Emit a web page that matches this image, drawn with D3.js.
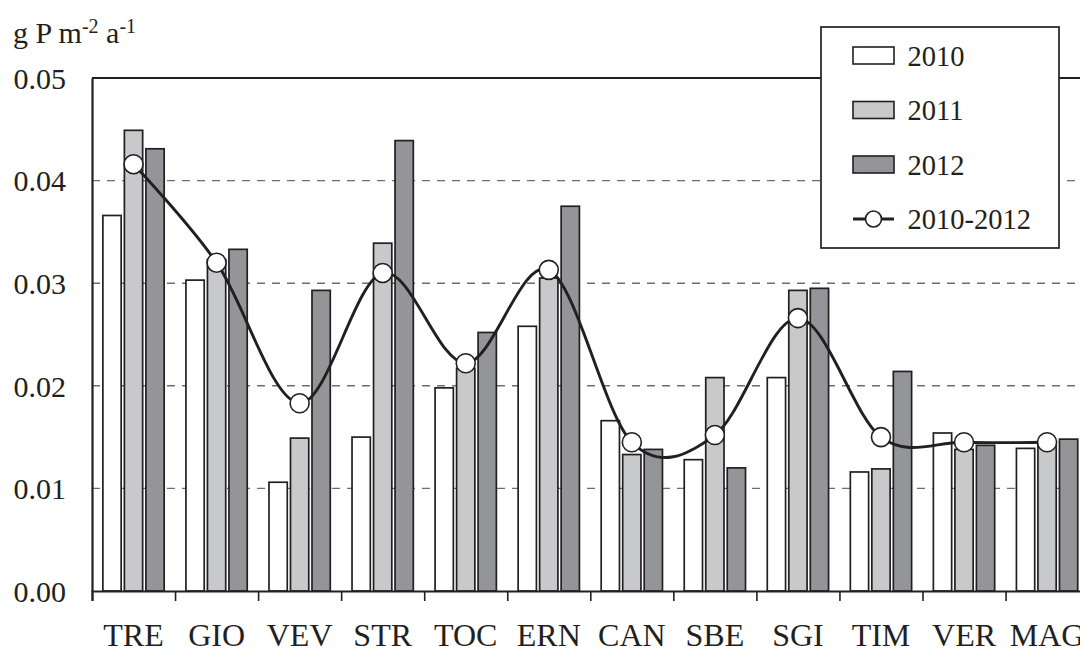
<!DOCTYPE html>
<html>
<head>
<meta charset="utf-8">
<script src="https://cdn.jsdelivr.net/npm/d3@7"></script>
<style>
  html, body { margin: 0; padding: 0; background: #fff; }
  svg { display: block; }
  text { font-family: "Liberation Serif", "Times New Roman", serif; fill: #231f20; }
</style>
</head>
<body>
<svg id="chart" width="1080" height="650"></svg>
<script>
// Sites along the river, upstream to downstream
const sites = ["TRE", "GIO", "VEV", "STR", "TOC", "ERN", "CAN", "SBE", "SGI", "TIM", "VER", "MAG"];
const years = ["2010", "2011", "2012"];

// Annual phosphorus load per site (g P m^-2 a^-1)
const v2010 = [0.0366, 0.0303, 0.0106, 0.0150, 0.0198, 0.0258, 0.0166, 0.0128, 0.0208, 0.0116, 0.0154, 0.0139];
const v2011 = [0.0449, 0.0323, 0.0149, 0.0339, 0.0217, 0.0305, 0.0133, 0.0208, 0.0293, 0.0119, 0.0138, 0.0146];
const v2012 = [0.0431, 0.0333, 0.0293, 0.0439, 0.0252, 0.0375, 0.0138, 0.0120, 0.0295, 0.0214, 0.0142, 0.0148];
// 2010-2012 mean
const vMean = [0.0416, 0.0320, 0.0183, 0.0310, 0.0222, 0.0313, 0.0145, 0.0152, 0.0266, 0.0150, 0.0145, 0.0145];

const yTicks = [0, 0.01, 0.02, 0.03, 0.04, 0.05];

const seriesByYear = { "2010": v2010, "2011": v2011, "2012": v2012 };
const fills = { "2010": "#ffffff", "2011": "#c8c9cb", "2012": "#939598" };
const ink = "#231f20";

const svg = d3.select("#chart");
const plotL = 92, plotR = 1088.6, plotT = 78, plotB = 591;

const x = d3.scaleBand().domain(sites).range([plotL, plotR]).paddingInner(0.262).paddingOuter(0.131);
const xInner = d3.scaleBand().domain(years).range([0, x.bandwidth()]).paddingInner(0.15);
const xEdge = d3.scaleLinear().domain([0, sites.length]).range([plotL, plotR]);
const y = d3.scaleLinear().domain([0, 0.05]).range([plotB, plotT]);

// dashed grid lines
svg.append("g")
  .selectAll("line")
  .data(yTicks.filter(t => t > 0 && t < 0.05))
  .join("line")
  .attr("x1", plotL).attr("x2", plotR)
  .attr("y1", d => y(d)).attr("y2", d => y(d))
  .attr("stroke", "#6d6e70").attr("stroke-width", 1.4)
  .attr("stroke-dasharray", "8,7");

// grouped bars
const groups = svg.append("g")
  .selectAll("g")
  .data(sites)
  .join("g")
  .attr("transform", d => `translate(${x(d)},0)`);

groups.selectAll("rect")
  .data((s, i) => years.map(yr => ({ yr, v: seriesByYear[yr][i] })))
  .join("rect")
  .attr("x", d => xInner(d.yr))
  .attr("width", xInner.bandwidth())
  .attr("y", d => y(d.v))
  .attr("height", d => y(0) - y(d.v))
  .attr("fill", d => fills[d.yr])
  .attr("stroke", ink).attr("stroke-width", 1.7);

// frame top line
svg.append("line").attr("x1", plotL).attr("x2", plotR).attr("y1", plotT).attr("y2", plotT)
  .attr("stroke", ink).attr("stroke-width", 2);

// y axis
const yAxis = svg.append("g")
  .attr("transform", `translate(${plotL},0)`)
  .call(d3.axisLeft(y).tickValues(yTicks).tickFormat(d3.format(".2f")).tickSize(0).tickPadding(26));
yAxis.select(".domain").attr("stroke", ink).attr("stroke-width", 2.2);
yAxis.selectAll("text")
  .attr("font-family", "Liberation Serif, serif")
  .attr("font-size", 30).attr("dy", "0.34em").attr("fill", ink);

// x axis: boundary ticks
const xTickAxis = svg.append("g")
  .attr("transform", `translate(0,${plotB})`)
  .call(d3.axisBottom(xEdge).tickValues(d3.range(0, sites.length + 1)).tickFormat("").tickSize(10));
xTickAxis.select(".domain").attr("stroke", ink).attr("stroke-width", 2.2);
xTickAxis.selectAll(".tick line").attr("stroke", ink).attr("stroke-width", 1.6);

// x axis: site labels
const xLabelAxis = svg.append("g")
  .attr("transform", `translate(0,${plotB})`)
  .call(d3.axisBottom(x).tickSize(0).tickPadding(0));
xLabelAxis.select(".domain").remove();
xLabelAxis.selectAll("text")
  .attr("font-family", "Liberation Serif, serif")
  .attr("font-size", 32).attr("y", 55).attr("dy", 0).attr("fill", ink);

// mean line with smoothing
const cx = (d, i) => x(sites[i]) + x.bandwidth() / 2;
const meanLine = d3.line()
  .x((d, i) => cx(d, i))
  .y(d => y(d))
  .curve(d3.curveCardinal.tension(0));

svg.append("path")
  .datum(vMean)
  .attr("d", meanLine)
  .attr("fill", "none").attr("stroke", ink).attr("stroke-width", 2.9);

svg.append("g")
  .selectAll("circle")
  .data(vMean)
  .join("circle")
  .attr("cx", (d, i) => cx(d, i))
  .attr("cy", d => y(d))
  .attr("r", 9.5)
  .attr("fill", "#fff").attr("stroke", ink).attr("stroke-width", 1.6);

// unit label
const unit = svg.append("text").attr("x", 13).attr("y", 43).attr("font-size", 30);
unit.append("tspan").text("g P m");
unit.append("tspan").attr("font-size", 20).attr("dy", -10).text("-2");
unit.append("tspan").attr("dy", 10).text(" a");
unit.append("tspan").attr("font-size", 20).attr("dy", -10).text("-1");

// legend
const legend = svg.append("g");
legend.append("rect")
  .attr("x", 821).attr("y", 27).attr("width", 238).attr("height", 221)
  .attr("fill", "#fff").attr("stroke", ink).attr("stroke-width", 1.7);

const legendRows = [...years, "2010-2012"];
const rowY = d3.scalePoint().domain(legendRows).range([55.5, 219]);

legendRows.forEach(key => {
  const cy = rowY(key);
  if (key in fills) {
    legend.append("rect")
      .attr("x", 853).attr("y", cy - 8.5).attr("width", 41).attr("height", 17)
      .attr("fill", fills[key]).attr("stroke", ink).attr("stroke-width", 1.6);
  } else {
    legend.append("line")
      .attr("x1", 853).attr("x2", 894).attr("y1", cy).attr("y2", cy)
      .attr("stroke", ink).attr("stroke-width", 2.9);
    legend.append("circle")
      .attr("cx", 873.5).attr("cy", cy).attr("r", 8)
      .attr("fill", "#fff").attr("stroke", ink).attr("stroke-width", 1.6);
  }
  legend.append("text")
    .attr("x", 907.5).attr("y", cy + 10)
    .attr("font-size", 28.5)
    .text(key);
});
</script>
</body>
</html>
